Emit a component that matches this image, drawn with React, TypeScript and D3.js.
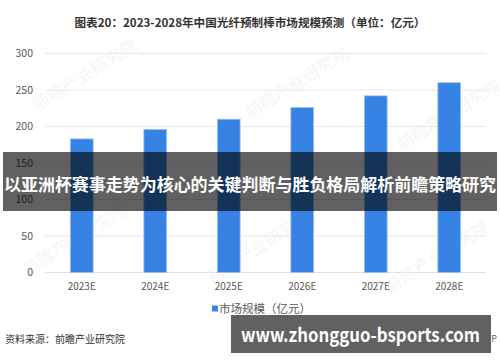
import * as d3 from 'd3'

const YEARS = ['2023E', '2024E', '2025E', '2026E', '2027E', '2028E']
const MARKET_SIZE = [183, 196, 210, 226, 242, 260]
const Y_TICKS = [0, 50, 100, 150, 200, 250, 300]

const TITLE = '图表20：2023-2028年中国光纤预制棒市场规模预测（单位：亿元）'
const LEGEND = '市场规模（亿元）'
const SOURCE = '资料来源：前瞻产业研究院'
const BANNER = '以亚洲杯赛事走势为核心的关键判断与胜负格局解析前瞻策略研究'
const SITE = 'www.zhongguo-bsports.com'
const WATERMARK = '前瞻产业研究院'

const FONT = '"Noto Sans CJK SC", "Noto Sans", sans-serif'
const BAR_COLOR = '#3783e5'

export default function App() {
  const width = 500
  const height = 362
  const margin = { left: 45, right: 14, top: 53.5, bottom: 272.5 }

  const x = d3.scaleBand()
    .domain(YEARS)
    .range([margin.left, width - margin.right])
    .paddingInner(0.69)
    .paddingOuter(0.345)

  const y = d3.scaleLinear()
    .domain([0, 300])
    .range([margin.bottom, margin.top])

  // faint watermark spots
  const marks = [[88, 80], [300, 88], [78, 245], [262, 252], [452, 120], [440, 262]]

  return (
    <svg width={width} height={height}
      style={{ position: 'absolute', left: 0, top: 0, background: '#fff' }}
      fontFamily={FONT}>
      <rect width={width} height={height} fill="#fff" />

      <text x={width / 2} y={27} textAnchor="middle" fontSize={11.6}
        fontWeight="bold" fill="#333">{TITLE}</text>

      {/* watermark */}
      {marks.map(([mx, my], i) => (
        <text key={`wm-${i}`} x={mx} y={my} textAnchor="middle" fontSize={17}
          fontWeight="bold" fill="#000" fillOpacity={0.05}
          transform={`rotate(-32, ${mx}, ${my})`}>{WATERMARK}</text>
      ))}

      {/* grid + y ticks */}
      {Y_TICKS.map(t => (
        <g key={t}>
          <line x1={margin.left} x2={width - margin.right} y1={y(t)} y2={y(t)}
            stroke={t === 0 ? '#e3e3e3' : '#e8e8e8'} strokeWidth={1} />
          <text x={33} y={y(t)} dy="0.35em" textAnchor="end" fontSize={10.5}
            fill="#595959">{t}</text>
        </g>
      ))}

      {/* bars */}
      {YEARS.map((yr, i) => (
        <rect key={yr} x={x(yr)} y={y(MARKET_SIZE[i])} width={x.bandwidth()}
          height={y(0) - y(MARKET_SIZE[i])} fill={BAR_COLOR}
          stroke="#9cc2f2" strokeWidth={0.8} />
      ))}

      {/* x labels */}
      {YEARS.map(yr => (
        <text key={`xl-${yr}`} x={(x(yr) ?? 0) + x.bandwidth() / 2} y={286}
          dy="0.35em" textAnchor="middle" fontSize={10} fill="#595959">{yr}</text>
      ))}

      {/* legend */}
      <rect x={212} y={305.5} width={6} height={6} fill={BAR_COLOR} />
      <text x={219} y={309} dy="0.35em" fontSize={11.5} fill="#595959">{LEGEND}</text>

      <text x={5} y={339} dy="0.35em" fontSize={10} fill="#333">{SOURCE}</text>
      <text x={497} y={339} dy="0.35em" textAnchor="end" fontSize={9}
        fill="#666">APP</text>

      {/* overlay banner */}
      <rect x={3} y={152} width={494} height={59} fill="#000" fillOpacity={0.62} />
      <text x={width / 2} y={185} dy="0.35em" textAnchor="middle" fontSize={17}
        fontWeight="bold" fill="#fff" textLength={492}
        lengthAdjust="spacingAndGlyphs">{BANNER}</text>

      <rect x={231} y={315} width={260} height={38} fill="#616161" />
      <text x={241} y={335.5} dy="0.35em" fontSize={19} fontWeight="bold"
        fill="#fff" textLength={239} lengthAdjust="spacingAndGlyphs">{SITE}</text>
    </svg>
  )
}
